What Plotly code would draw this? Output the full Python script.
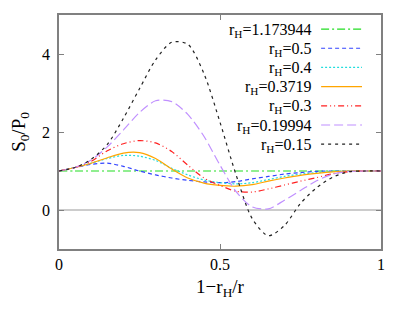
import plotly.graph_objects as go

x = [0.0, 0.05, 0.1, 0.15, 0.2, 0.25, 0.3, 0.35, 0.4, 0.45, 0.5,
     0.55, 0.6, 0.65, 0.7, 0.75, 0.8, 0.85, 0.9, 0.95, 1.0]

labels = ["r<sub>H</sub>=1.173944", "r<sub>H</sub>=0.5", "r<sub>H</sub>=0.4",
          "r<sub>H</sub>=0.3719", "r<sub>H</sub>=0.3", "r<sub>H</sub>=0.19994",
          "r<sub>H</sub>=0.15"]

y_1173944 = [1.0] * 21
y_05 = [1.0, 1.09, 1.17, 1.2, 1.12, 1.0, 0.9, 0.82, 0.76, 0.72, 0.7,
        0.73, 0.8, 0.86, 0.92, 0.96, 0.99, 1.0, 1.0, 1.0, 1.0]
y_04 = [1.0, 1.09, 1.2, 1.32, 1.4, 1.38, 1.27, 1.07, 0.9, 0.77, 0.7,
        0.67, 0.7, 0.78, 0.86, 0.92, 0.96, 0.99, 1.0, 1.0, 1.0]
y_03719 = [1.0, 1.09, 1.2, 1.34, 1.46, 1.47, 1.32, 1.05, 0.82, 0.69, 0.63,
           0.61, 0.65, 0.74, 0.82, 0.89, 0.94, 0.98, 1.0, 1.0, 1.0]
y_03 = [1.0, 1.09, 1.25, 1.52, 1.7, 1.78, 1.72, 1.5, 1.15, 0.82, 0.63,
        0.48, 0.46, 0.54, 0.64, 0.74, 0.83, 0.93, 0.98, 1.0, 1.0]
y_019994 = [1.0, 1.09, 1.28, 1.62, 2.05, 2.5, 2.8, 2.78, 2.45, 1.89, 1.15,
            0.47, 0.08, 0.03, 0.25, 0.5, 0.75, 0.92, 0.99, 1.0, 1.0]
y_015 = [1.0, 1.09, 1.3, 1.68, 2.35, 3.11, 3.85, 4.3, 4.25, 3.5, 2.25,
         0.9, -0.22, -0.66, -0.4, 0.17, 0.57, 0.84, 0.98, 1.0, 1.0]

series = [y_1173944, y_05, y_04, y_03719, y_03, y_019994, y_015]
colors = ["#22dd22", "#3344ff", "#22dddd", "#ffa500", "#ff2020", "#c090ff", "#222222"]
dashes = ["8px,3px,2px,3px", "4px,3px", "2px,2px", "solid",
          "6px,3px,1px,3px,1px,3px", "9px,4px", "3px,4px"]

fig = go.Figure()
for ys, c, d, lab in zip(series, colors, dashes, labels):
    fig.add_trace(go.Scatter(x=x, y=ys, mode="lines", name=lab,
                             line=dict(color=c, dash=d, width=1.2, shape="spline", smoothing=0.8),
                             showlegend=False))

# manual legend (text left, sample right)
row_y = [0.935, 0.853, 0.771, 0.689, 0.607, 0.525, 0.443]
annotations = []
shapes = []
for lab, c, d, yy in zip(labels, colors, dashes, row_y):
    annotations.append(dict(x=0.79, y=yy, xref="paper", yref="paper", text=lab,
                            showarrow=False, xanchor="right", yanchor="middle",
                            font=dict(family="Liberation Serif", size=16, color="#000")))
    shapes.append(dict(type="line", xref="paper", yref="paper", x0=0.814, x1=0.941,
                       y0=yy + 0.005, y1=yy + 0.005, line=dict(color=c, dash=d, width=1.2)))

fig.update_layout(
    width=402, height=308,
    margin=dict(l=51, r=29, t=7, b=67),
    paper_bgcolor="white", plot_bgcolor="white",
    font=dict(family="Liberation Serif", size=16, color="#000"),
    annotations=annotations, shapes=shapes,
    xaxis=dict(range=[0, 1], tickvals=[0, 0.5, 1], ticktext=["0", "0.5", "1"],
               ticks="inside", ticklen=5, tickcolor="#808080", mirror="ticks",
               showline=True, linecolor="#808080", linewidth=1.5,
               showgrid=False, zeroline=False, automargin=False,
               title=dict(text="1−r<sub>H</sub>/r", standoff=8)),
    yaxis=dict(range=[-1, 5], tickvals=[0, 2, 4], ticktext=["0", "2", "4"],
               ticks="inside", ticklen=5, tickcolor="#808080", mirror="ticks",
               showline=True, linecolor="#808080", linewidth=1.5,
               showgrid=False, zeroline=True, zerolinecolor="#cccccc", zerolinewidth=1.5,
               ticklabelstandoff=4, automargin=False,
               title=dict(text="S<sub>0</sub>/P<sub>0</sub>", standoff=18)),
)

fig.write_html("out.html")
